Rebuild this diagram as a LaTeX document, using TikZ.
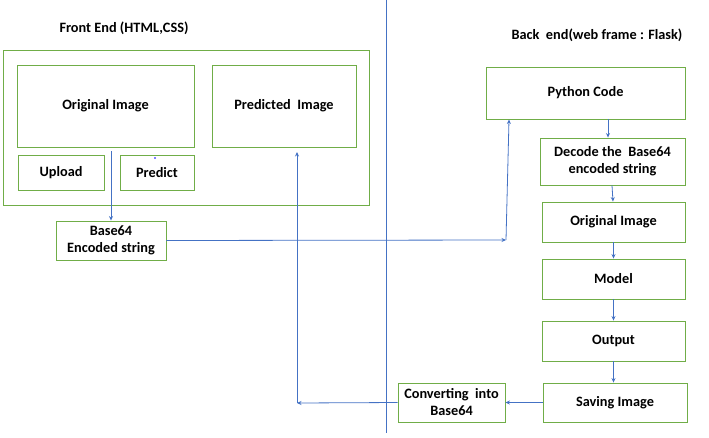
\documentclass[tikz,border=0pt]{standalone}
\usepackage{fontspec}
\setmainfont{Carlito}
\usetikzlibrary{arrows.meta}
\definecolor{boxgreen}{HTML}{70AD47}
\definecolor{lineblue}{HTML}{4472C4}
\tikzset{
  box/.style={draw=boxgreen, line width=0.9pt, font=\fontsize{14.3}{17}\selectfont\bfseries, align=center, inner sep=0pt},
  flow/.style={draw=lineblue, line width=0.8pt, -{Stealth[length=4.5pt,width=4pt]}},
  title/.style={font=\fontsize{14.3}{17}\selectfont\bfseries}
}
\begin{document}
\begin{tikzpicture}[x=1pt, y=-1pt]
		\useasboundingbox (0,0) rectangle (709,437);
		% Front end
		\node[title] (fetitle) at (124,28) {Front End (HTML,CSS)};
		\node[box, minimum width=366pt, minimum height=155pt] (frame) at (186,127.5) {};
		\node[box, minimum width=177pt, minimum height=82pt] (origF) at (105.5,106) {Original Image};
		\node[box, minimum width=144pt, minimum height=82pt] (predF) at (284,106) {Predicted\ \ Image};
		\node[box, minimum width=86pt, minimum height=35pt] (upload) at (61,172.5) {Upload};
		\node[box, minimum width=74pt, minimum height=35pt] (predict) at (157,172.5) {Predict};
		\fill[blue] (155,158) circle (0.9);
		\node[box, minimum width=110pt, minimum height=39pt] (b64) at (111,240.5) {Base64\\Encoded string};

		% divider
		\draw[lineblue, line width=0.8pt] (386,0) -- (386,433);

		% Back end
		\node[title] (betitle) at (597,35) {Back\ \ end(web frame : Flask)};
		\node[box, minimum width=199pt, minimum height=52pt] (python) at (585.5,93) {Python Code};
		\node[box, minimum width=145pt, minimum height=47pt] (decode) at (612.5,161.5) {Decode the\ \ Base64\\encoded string};
		\node[box, minimum width=143pt, minimum height=40pt] (origB) at (613.5,222) {Original Image};
		\node[box, minimum width=143pt, minimum height=40pt] (model) at (613.5,279) {Model};
		\node[box, minimum width=143pt, minimum height=40pt] (output) at (613.5,341) {Output};
		\node[box, minimum width=144pt, minimum height=39pt] (saving) at (615,402.5) {Saving Image};
		\node[box, minimum width=107pt, minimum height=39pt] (convert) at (451.5,402.5) {Converting\ \ into\\Base64};

		% connectors
		\coordinate (up1) at (111,151);
		\coordinate (turn1) at (506,240);
		\coordinate (turn2) at (297,403);
		\coordinate (up2) at (297,152);
		\draw[flow] (up1) -- (b64.north);
		\draw[flow] (b64.east) -- (turn1);
		\draw[flow] (turn1) -- (python.south west -| 509,0);
		\draw[flow] (python.south -| 608,0) -- (decode.north -| 608,0);
		\draw[flow] (decode.south -| 612,0) -- (origB.north -| 613,0);
		\draw[flow] (origB) ++(0,20) -- (model.north);
		\draw[flow] (model.south) -- (output.north);
		\draw[flow] (output.south) -- (saving.north -| output.south);
		\draw[flow] (saving.west) -- (convert.east);
		\draw[flow] (convert.west) -- (turn2);
		\draw[flow] (turn2) -- (up2);
	\end{tikzpicture}
\end{document}
